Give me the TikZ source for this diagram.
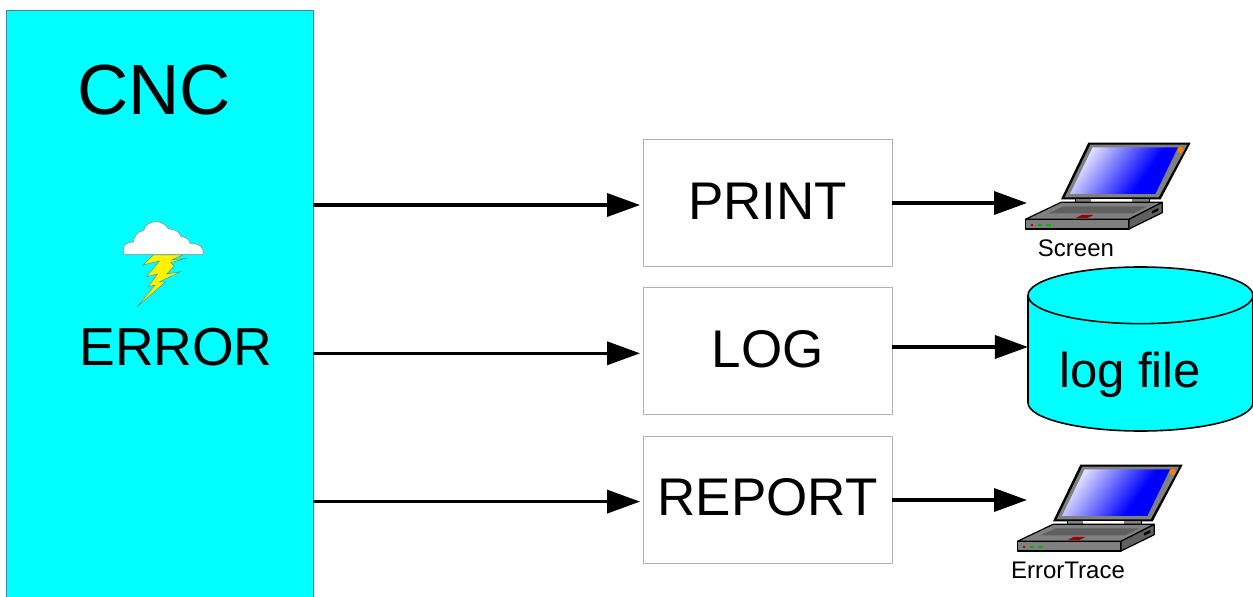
\documentclass[tikz,border=0pt]{standalone}
\usepackage{fontspec}
\setmainfont{Liberation Sans}
\usepackage{tikz}
\usetikzlibrary{arrows.meta, shapes.geometric}
\definecolor{panelcyan}{RGB}{0,255,255}
\definecolor{laptopgray}{RGB}{128,128,128}
\definecolor{padgray}{RGB}{96,96,96}
\pgfdeclarehorizontalshading{lidblue}{100bp}{color(0bp)=(white); color(22bp)=(white); color(62bp)=(blue); color(100bp)=(blue)}
\tikzstyle{panel}   = [rectangle, minimum width=307pt, minimum height=587pt, draw=black!40!cyan, line width=.6pt, fill=panelcyan]
\tikzstyle{box}     = [rectangle, minimum width=249pt, minimum height=127pt, text height=38pt, text depth=6pt, text centered, draw=black!30, line width=.8pt, fill=white, font=\fontsize{53}{60}\selectfont]
\tikzstyle{title}   = [inner sep=0pt, font=\fontsize{53.5}{60}\selectfont]
\tikzstyle{caption} = [inner sep=0pt, font=\fontsize{24}{27}\selectfont]
\tikzstyle{store}   = [cylinder, shape border rotate=90, aspect=8.5, minimum width=225pt, minimum height=164pt, outer sep=0pt, anchor=shape center, draw=black, line width=1.6pt, fill=panelcyan]
\tikzstyle{arrow}   = [line width=3.4pt, -{Triangle[length=33pt, width=23pt]}]
\tikzset{laptop/.pic={
    % coordinates read from a 3x crop
    \begin{scope}[x=.3333pt, y=-.3333pt, line join=round]
      \fill [black] (265,38) -- (572,38) -- (482,208) -- (183,208) -- cycle;
      \fill [laptopgray] (271,44) -- (562,44) -- (476,202) -- (194,202) -- cycle;
      \shade [shading=lidblue, shading angle=-35]
        (278,52) -- (534,52) -- (466,192) -- (210,192) -- cycle;
      \fill [orange] (542,60) circle (9);
      \fill [laptopgray, draw=black, line width=.5pt] (225,204) rectangle (447,220);
      \fill [white] (272,207) rectangle (397,218);
      \filldraw [draw=black, line width=1.2pt, fill=laptopgray] (76,268) -- (183,217) -- (225,217) -- (447,217) -- (487,217) -- (387,268) -- cycle;
      \filldraw [draw=black, line width=1.2pt, fill=laptopgray] (76,268) -- (387,268) -- (387,297) -- (76,297) -- cycle;
      \filldraw [draw=black, line width=1.2pt, fill=padgray] (387,268) -- (487,217) -- (487,248) -- (387,297) -- cycle;
      \fill [padgray] (145,250) -- (190,229) -- (442,229) -- (400,250) -- cycle;
      \fill [red!60!black] (228,264) -- (245,255) -- (280,255) -- (262,264) -- cycle;
      \fill [black] (456,243) -- (475,234) -- (475,242) -- (456,251) -- cycle;
      \fill [red!70!black] (92,283) rectangle (100,287);
      \fill [green!70!black] (114,283) rectangle (127,287);
      \fill [green!70!black] (139,283) rectangle (152,287);
      \foreach \dotx in {285,296,307,318}
        \fill [black!50] (\dotx,280) rectangle +(5,4);
      \fill [black!50] (351,281) rectangle (365,285);
    \end{scope}
}}

\begin{document}
\begin{tikzpicture}[x=1pt, y=-1pt, node distance=148.3pt]
    \useasboundingbox (0,0) rectangle (1253,597);

    \node (panel) [panel] at (159.5,303.5) {};
    \node (cnc)   [title, font=\fontsize{71}{80}\selectfont] at (154,90) {CNC};
    \node (error) [title] at (176,347) {ERROR};

    % cloud and bolt
    \begin{scope}[shift={(100,210)}, x=.3333pt, y=-.3333pt]
      \filldraw [draw=black!45, line width=.6pt, fill=white]
        (72,133) .. controls (66,120) and (68,97) .. (100,96)
        .. controls (102,78) and (115,62) .. (131,62)
        .. controls (135,42) and (155,35) .. (168,35)
        .. controls (185,35) and (198,45) .. (205,57)
        .. controls (225,55) and (240,68) .. (243,80)
        .. controls (258,80) and (268,88) .. (270,100)
        .. controls (295,98) and (315,112) .. (308,133) -- cycle;
      \filldraw [draw=black!40!cyan, line width=.4pt, fill=yellow]
        (160,135) -- (128,165) -- (178,153) -- (140,200) -- (172,192) -- (145,230)
        -- (165,225) -- (112,290) -- (196,216) -- (178,216) -- (242,185) -- (200,192)
        -- (223,168) -- (212,158) -- (258,145) -- (215,150) -- (248,135) -- cycle;
    \end{scope}

    \node (print)  [box] at (767.5,203) {PRINT};
    \node (log)    [box, below of=print] {LOG};
    \node (report) [box, below of=log] {REPORT};

    \pic (screen) at (1000,130) {laptop};
    \pic (trace)  at (992,452)  {laptop};
    \node (screenlabel) [caption] at (1076,248) {Screen};
    \node (tracelabel)  [caption] at (1068,570) {ErrorTrace};

    \node (logfile) [store] at (1140.5,349) {};
    \node (logtext) [title, font=\fontsize{49}{56}\selectfont] at (1130,375) {log file};

    \coordinate (screenin) at (1027,203);
    \coordinate (tracein)  at (1027,500);

    \draw [arrow, shorten >=2.5pt] ([yshift=-2pt]panel.east |- print.west) -- ([yshift=-2pt]print.west);
    \draw [arrow, shorten >=2.5pt] ([yshift=-2pt]panel.east |- log.west) -- ([yshift=-2pt]log.west);
    \draw [arrow, shorten >=2.5pt] ([yshift=-2pt]panel.east |- report.west) -- ([yshift=-2pt]report.west);
    \draw [arrow] (print.east |- screenin) -- (screenin);
    \draw [arrow] ([yshift=20pt]log.east |- logfile.west) -- ([yshift=20pt]logfile.west);
    \draw [arrow] (report.east |- tracein) -- (tracein);
\end{tikzpicture}
\end{document}
